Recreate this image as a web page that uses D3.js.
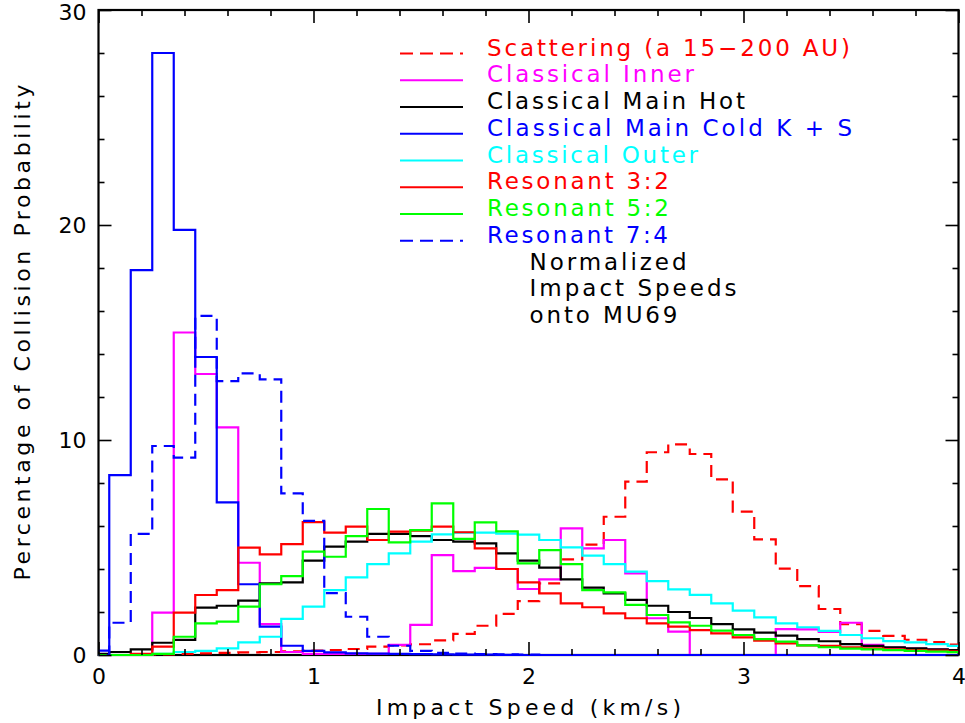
<!DOCTYPE html>
<html><head><meta charset="utf-8">
<script src="https://cdn.jsdelivr.net/npm/d3@7"></script>
<style>body{margin:0;background:#fff}svg{display:block}text{font-family:"DejaVu Sans",sans-serif}</style>
</head><body><svg id="chart" width="965" height="723"></svg>
<script>
// bin centres (km/s), bin width 0.1
const binCenters = [0.0,0.1,0.2,0.3,0.4,0.5,0.6,0.7,0.8,0.9,1.0,1.1,1.2,1.3,1.4,1.5,1.6,1.7,1.8,1.9,2.0,2.1,2.2,2.3,2.4,2.5,2.6,2.7,2.8,2.9,3.0,3.1,3.2,3.3,3.4,3.5,3.6,3.7,3.8,3.9,4.0];
const scattering   = [0,0,0,0.03,0.05,0.08,0.10,0.12,0.14,0.17,0.20,0.23,0.28,0.39,0.45,0.50,0.68,0.98,1.36,1.91,2.51,3.33,4.45,5.13,6.43,8.06,9.43,9.80,9.35,8.17,6.67,5.38,4.02,3.20,2.14,1.43,1.12,0.89,0.71,0.60,0.48];
const classInner   = [0,0,0,1.97,15.0,13.07,10.59,4.29,1.44,0.14,0.05,0.05,0.05,0.05,0.47,1.40,4.65,3.90,4.05,4.00,3.07,3.52,5.89,4.96,5.35,3.80,1.71,1.09,0,0,0,0,1.20,1.19,1.08,1.50,0.47,0.35,0.30,0.25,0.20];
const classHot     = [0.05,0.14,0.26,0.57,0.70,2.20,2.29,2.53,3.33,3.38,4.39,5.04,5.27,5.63,5.63,5.53,5.35,5.27,5.19,4.73,4.39,4.06,3.52,3.13,2.87,2.56,2.29,2.00,1.72,1.44,1.19,1.04,0.90,0.74,0.64,0.51,0.42,0.36,0.31,0.26,0.23];
const classCold    = [0.20,8.37,17.9,28.0,19.77,13.86,7.10,3.29,1.32,0.43,0.19,0.12,0.08,0.06,0.05,0.04,0.03,0.02,0.02,0.01,0,0,0,0,0,0,0,0,0,0,0,0,0,0,0,0,0,0,0,0,0];
const classOuter   = [0,0,0.02,0.05,0.14,0.19,0.31,0.59,0.85,1.68,2.25,3.02,3.61,4.23,4.73,5.27,5.61,5.69,5.69,5.65,5.60,5.35,5.01,4.62,4.23,3.88,3.44,3.05,2.80,2.40,2.06,1.75,1.47,1.29,1.12,0.93,0.78,0.65,0.59,0.51,0.42];
const res32        = [0,0,0.05,0.39,1.97,2.79,3.02,4.99,4.68,5.16,6.18,5.69,5.97,5.35,5.74,5.78,5.97,5.71,4.96,4.00,3.38,2.87,2.40,2.22,1.94,1.71,1.47,1.32,1.16,1.01,0.82,0.67,0.54,0.45,0.42,0.36,0.31,0.26,0.23,0.20,0.17];
const res52        = [0,0,0,0.05,0.85,1.47,1.55,2.25,3.29,3.67,4.81,4.57,5.53,6.79,5.24,5.81,7.05,5.40,6.17,5.75,4.26,4.88,4.23,3.02,2.91,2.33,1.86,1.52,1.36,1.13,0.93,0.74,0.62,0.45,0.36,0.30,0.26,0.23,0.19,0.16,0.13];
const res74        = [0,1.50,5.63,9.72,9.18,15.77,12.74,13.10,12.82,7.52,6.24,2.88,1.78,0.85,0.43,0.19,0.10,0.06,0.04,0.03,0.02,0,0,0,0,0,0,0,0,0,0,0,0,0,0,0,0,0,0,0,0];

const seriesNames  = ["Scattering (a 15\u2212200 AU)","Classical Inner","Classical Main Hot","Classical Main Cold K + S","Classical Outer","Resonant 3:2","Resonant 5:2","Resonant 7:4"];
const seriesValues = [scattering,classInner,classHot,classCold,classOuter,res32,res52,res74];
const noteLines    = ["Normalized","Impact Speeds","onto MU69"];
const xMajorTicks  = [0,1,2,3,4];
const xMinorTicks  = [0.2,0.4,0.6,0.8,1.2,1.4,1.6,1.8,2.2,2.4,2.6,2.8,3.2,3.4,3.6,3.8];
const yMajorTicks  = [0,10,20,30];
const yMinorTicks  = [2,4,6,8,12,14,16,18,22,24,26,28];
const xTitle = "Impact Speed (km/s)";
const yTitle = "Percentage of Collision Probability";

// styling / layout
const colors = ["#ff0000","#ff00ff","#000000","#0000ff","#00ffff","#ff0000","#00ff00","#0000ff"];
const dashed = [true,false,false,false,false,false,false,true];
const legendWidths = [363,207,258,365,211,182,182,181];
const noteWidths = [157,207,148];
const binW = 0.1;

const svg = d3.select("#chart");
const L=98.5,R=958.5,T=10,B=655;
const x = d3.scaleLinear().domain([0,4]).range([L,R]);
const y = d3.scaleLinear().domain([0,30]).range([B,T]);

// frame first (series are drawn over it, as in the original)
svg.append("rect").attr("x",L).attr("y",T).attr("width",R-L).attr("height",B-T)
  .attr("fill","none").attr("stroke","#000").attr("stroke-width",2.2);

svg.append("defs").append("clipPath").attr("id","clip")
  .append("rect").attr("x",L).attr("y",T).attr("width",R-L).attr("height",B-T+1.5);

const line = d3.line().x(d=>x(d[0])).y(d=>y(d[1])).curve(d3.curveStepAfter);
const plot = svg.append("g").attr("clip-path","url(#clip)");
seriesValues.forEach((vals,i)=>{
  const pts = binCenters.map((c,k)=>[c-binW/2, vals[k]]);
  pts.push([binCenters[binCenters.length-1]+binW/2, vals[vals.length-1]]);
  plot.append("path").datum(pts).attr("d",line)
    .attr("fill","none").attr("stroke",colors[i]).attr("stroke-width",2.2)
    .attr("stroke-dasharray",dashed[i]?"12,7":null);
});

function styleAxis(g){ g.select(".domain").remove(); g.selectAll(".tick line").attr("stroke","#000").attr("stroke-width",1.6);
  g.selectAll("text").attr("fill","#000").style("font-size","22px").style("font-family","DejaVu Sans, sans-serif"); }

svg.append("g").attr("transform",`translate(0,${B})`)
  .call(d3.axisBottom(x).tickValues(xMajorTicks).tickSize(-13).tickPadding(13).tickFormat(d3.format("d"))).call(styleAxis);
svg.append("g").attr("transform",`translate(0,${B})`)
  .call(d3.axisBottom(x).tickValues(xMinorTicks).tickSize(-6).tickFormat("")).call(styleAxis);
svg.append("g").attr("transform",`translate(0,${T})`)
  .call(d3.axisTop(x).tickValues(xMajorTicks).tickSize(-13).tickFormat("")).call(styleAxis);
svg.append("g").attr("transform",`translate(0,${T})`)
  .call(d3.axisTop(x).tickValues(xMinorTicks).tickSize(-6).tickFormat("")).call(styleAxis);
const yAx = svg.append("g").attr("transform",`translate(${L},0)`)
  .call(d3.axisLeft(y).tickValues(yMajorTicks).tickSize(-13).tickPadding(12).tickFormat(d3.format("d"))).call(styleAxis);
yAx.selectAll(".tick text").filter(d=>d===30).attr("dy","0.42em");
svg.append("g").attr("transform",`translate(${L},0)`)
  .call(d3.axisLeft(y).tickValues(yMinorTicks).tickSize(-6).tickFormat("")).call(styleAxis);
svg.append("g").attr("transform",`translate(${R},0)`)
  .call(d3.axisRight(y).tickValues(yMajorTicks).tickSize(-13).tickFormat("")).call(styleAxis);
svg.append("g").attr("transform",`translate(${R},0)`)
  .call(d3.axisRight(y).tickValues(yMinorTicks).tickSize(-6).tickFormat("")).call(styleAxis);

// axis titles
svg.append("text").attr("x",(L+R)/2).attr("y",715).attr("text-anchor","middle")
  .style("font-size","22px").attr("textLength",305).attr("lengthAdjust","spacing").text(xTitle);
svg.append("text").attr("transform",`translate(30,${(T+B)/2}) rotate(-90)`).attr("text-anchor","middle")
  .style("font-size","22px").attr("textLength",496).attr("lengthAdjust","spacing").text(yTitle);

// legend
const lg = svg.append("g");
const rowH = 26.75, row0 = 53.5;
seriesNames.forEach((n,i)=>{
  const yy = row0 + i*rowH;
  lg.append("line").attr("x1",400).attr("x2",463).attr("y1",yy).attr("y2",yy)
    .attr("stroke",colors[i]).attr("stroke-width",2.2).attr("stroke-dasharray",dashed[i]?"13,7":null);
  lg.append("text").attr("x",487).attr("y",yy+2).attr("fill",colors[i]).style("font-size","23px")
    .attr("textLength",legendWidths[i]).attr("lengthAdjust","spacing").text(n);
});
noteLines.forEach((n,j)=>{
  const yy = row0 + (seriesNames.length+j)*rowH;
  lg.append("text").attr("x",529.5).attr("y",yy+2).attr("fill","#000").style("font-size","23px")
    .attr("textLength",noteWidths[j]).attr("lengthAdjust","spacing").text(n);
});
</script></body></html>
